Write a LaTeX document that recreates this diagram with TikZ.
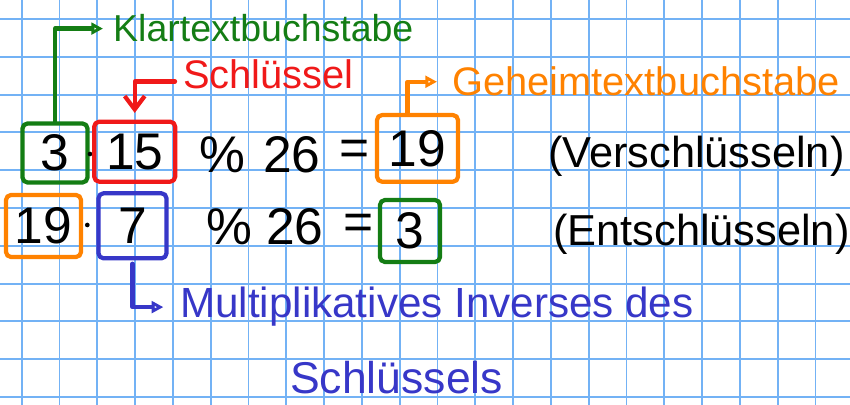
\documentclass[tikz,border=0pt]{standalone}
\usepackage{fontspec}
\setmainfont{Liberation Sans}
\definecolor{gridblue}{RGB}{115,178,245}
\definecolor{inkgreen}{RGB}{20,125,20}
\definecolor{inkred}{RGB}{240,25,25}
\definecolor{inkorange}{RGB}{255,130,0}
\definecolor{inkblue}{RGB}{55,55,200}
\usetikzlibrary{arrows.meta, positioning}

\begin{document}
\begin{tikzpicture}[x=0.03cm, y=-0.03cm,
    line cap=round, line join=round,
    gridline/.style={gridblue, line width=1.6pt},
    numbox/.style={draw, line width=3.6pt, rounded corners=0.15cm, inner sep=0pt,
                   font=\fontsize{44}{50}\selectfont},
    sym/.style={inner sep=0pt, font=\fontsize{44}{50}\selectfont},
    dotmark/.style={circle, fill=black, inner sep=0pt, minimum size=0.14cm},
    hand/.style={inner sep=0pt, anchor=base west, font=\fontsize{#1}{#1}\selectfont},
    pointer/.style={line width=3.6pt, -{Triangle[open, length=0.35cm, width=0.35cm, line width=2.6pt]}}]

    % Paper
    \fill[white] (0,0) rectangle (850,405);
    \useasboundingbox (0,0) rectangle (850,405);
    \foreach \k in {0,...,21}
        \draw[gridline] ({21.7+37.8*\k},0) -- ({21.7+37.8*\k},405);
    \foreach \k in {0,...,10}
        \draw[gridline] (0,{19+37.8*\k}) -- (850,{19+37.8*\k});

    % Encryption line
    \node[numbox, inkgreen, text=black, minimum width=1.95cm, minimum height=1.77cm] (k3) at (55,153) {3};
    \node[dotmark] (dotA) at (90,154) {};
    \node[numbox, inkred, text=black, minimum width=2.43cm, minimum height=1.8cm] (k15) at (134.7,151.7) {15};
    \node[sym] (modA) at (222,155) {\%};
    \node[sym] (nA) at (292,155) {26};
    \node[sym] (eqA) at (355,153) {=};
    \node[numbox, inkorange, text=black, minimum width=2.43cm, minimum height=2cm] (c19) at (417.5,148.4) {19};
    \node[hand=37] (enc) at (548,168) {(Verschlüsseln)};

    % Decryption line
    \node[numbox, inkorange, text=black, minimum width=2.25cm, minimum height=1.86cm] (c19b) at (43.5,226) {19};
    \node[dotmark] (dotB) at (87.3,225) {};
    \node[numbox, inkblue, text=black, minimum width=2.04cm, minimum height=1.95cm] (k7) at (132.5,225.8) {7};
    \node[sym] (modB) at (229,227) {\%};
    \node[sym] (nB) at (295,227) {26};
    \node[sym] (eqB) at (359,227) {=};
    \node[numbox, inkgreen, text=black, minimum width=1.8cm, minimum height=1.86cm] (k3b) at (410,231) {3};
    \node[hand=37] (dec) at (553,246) {(Entschlüsseln)};

    % Labels
    \node[hand=32, inkgreen] (klar) at (113,42) {Klartextbuchstabe};
    \node[hand=34, inkred] (schl) at (183,89) {Schlüssel};
    \node[hand=34, inkorange] (geheim) at (452,96) {Geheimtextbuchstabe};
    \node[hand=36, inkblue] (mult) at (180,318) {Multiplikatives Inverses des};
    \node[hand=38, inkblue] (schls) at (290,393) {Schlüssels};

    % Pointers
    \draw[pointer, inkgreen, shorten >=0.3cm] (k3.north) |- (klar.west);
    \draw[line width=3.6pt, inkred, -{Straight Barb[length=0.4cm, width=0.6cm]},
          shorten <=0.24cm, shorten >=0.2cm] ([yshift=-0.2cm]schl.west) -| (k15.north);
    \draw[pointer, inkorange, shorten >=0.45cm] ([xshift=-0.3cm]c19.north) |- (geheim.west);
    \draw[pointer, inkblue, shorten <=0.1cm, shorten >=0.5cm] (k7.south) |- (mult.west);
\end{tikzpicture}
\end{document}
